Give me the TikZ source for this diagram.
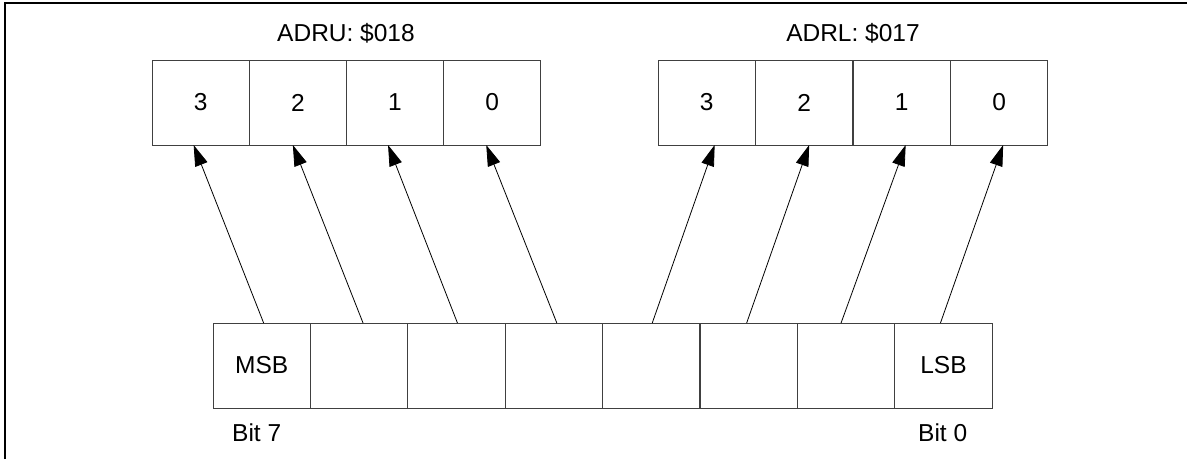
\documentclass[tikz,border=0pt]{standalone}
\usepackage{fontspec}
\setmainfont{Liberation Sans}
\usetikzlibrary{arrows.meta}
\begin{document}
\begin{tikzpicture}[x=1pt,y=-1pt,
  cell/.style={draw=black!75,line width=1pt,minimum width=97.3pt,minimum height=85pt,inner sep=0pt,outer sep=0pt,anchor=north west,font=\fontsize{24.5}{29}\selectfont},
  lbl/.style={inner sep=0pt,font=\fontsize{24.5}{29}\selectfont},
  conn/.style={line width=0.8pt,-{Triangle[length=21pt,width=13pt]}}]
\useasboundingbox (0,0) rectangle (1187,459);
\draw[line width=2pt] (5,459) -- (5,3) -- (1187,3);
% upper left register
\foreach \i/\t in {0/3,1/2,2/1,3/0}{
  \node[cell] (u\i) at ({152+97.2*\i},60) {\t};
}
\foreach \i/\t in {0/3,1/2,2/1,3/0}{
  \node[cell] (l\i) at ({658+97.5*\i},60) {\t};
}
\node[lbl] (ulab) at (346,33) {ADRU: \$018};
\node[lbl] (llab) at (853,33) {ADRL: \$017};
% bottom byte
\foreach \i in {0,...,7}{
  \node[cell] (b\i) at ({213+97.4*\i},323) {};
}
\node[lbl] at (b0) {MSB};
\node[lbl] at (b7) {LSB};
\node[lbl,anchor=west] (bit7) at (232,433) {Bit 7};
\node[lbl,anchor=west] (bit0) at (918,433) {Bit 0};
% arrows
\draw[conn] ([xshift=2pt]b0.north) -- ([xshift=-7pt]u0.south);
\draw[conn] ([xshift=4pt]b1.north) -- ([xshift=-5pt]u1.south);
\draw[conn] ([xshift=1pt]b2.north) -- ([xshift=-7pt]u2.south);
\draw[conn] ([xshift=3pt]b3.north) -- ([xshift=-6pt]u3.south);
\draw[conn] ([xshift=1pt]b4.north) -- ([xshift=8pt]l0.south);
\draw[conn] ([xshift=-2pt]b5.north) -- ([xshift=5pt]l1.south);
\draw[conn] ([xshift=-5pt]b6.north) -- ([xshift=4pt]l2.south);
\draw[conn] ([xshift=-3pt]b7.north) -- ([xshift=4pt]l3.south);
\end{tikzpicture}
\end{document}
